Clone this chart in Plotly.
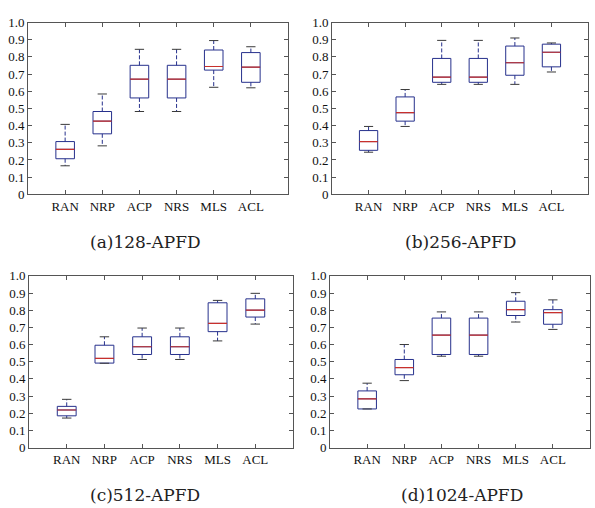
import plotly.graph_objects as go

categories = ["RAN", "NRP", "ACP", "NRS", "MLS", "ACL"]
panel_titles = ["(a)128-APFD", "(b)256-APFD", "(c)512-APFD", "(d)1024-APFD"]

# Panel (a) 128-APFD
a_low = [0.166, 0.282, 0.482, 0.482, 0.623, 0.620]
a_q1 = [0.207, 0.352, 0.561, 0.561, 0.723, 0.652]
a_med = [0.262, 0.426, 0.670, 0.670, 0.744, 0.740]
a_q3 = [0.307, 0.482, 0.751, 0.751, 0.840, 0.825]
a_high = [0.407, 0.584, 0.844, 0.844, 0.895, 0.859]

# Panel (b) 256-APFD
b_low = [0.245, 0.395, 0.640, 0.640, 0.640, 0.712]
b_q1 = [0.256, 0.426, 0.652, 0.652, 0.693, 0.742]
b_med = [0.307, 0.475, 0.682, 0.682, 0.766, 0.827]
b_q3 = [0.371, 0.567, 0.791, 0.791, 0.863, 0.874]
b_high = [0.395, 0.610, 0.896, 0.896, 0.910, 0.881]

# Panel (c) 512-APFD
c_low = [0.172, 0.491, 0.513, 0.513, 0.621, 0.719]
c_q1 = [0.185, 0.492, 0.542, 0.542, 0.675, 0.760]
c_med = [0.219, 0.519, 0.587, 0.587, 0.723, 0.800]
c_q3 = [0.240, 0.596, 0.645, 0.645, 0.843, 0.866]
c_high = [0.281, 0.645, 0.696, 0.696, 0.857, 0.898]

# Panel (d) 1024-APFD
d_low = [0.225, 0.390, 0.532, 0.532, 0.731, 0.688]
d_q1 = [0.225, 0.424, 0.542, 0.542, 0.769, 0.718]
d_med = [0.284, 0.466, 0.655, 0.655, 0.803, 0.786]
d_q3 = [0.330, 0.513, 0.754, 0.754, 0.852, 0.803]
d_high = [0.375, 0.600, 0.790, 0.790, 0.902, 0.860]

y_tickvals = [0, 0.1, 0.2, 0.3, 0.4, 0.5, 0.6, 0.7, 0.8, 0.9, 1.0]
y_ticktext = ["0", "0.1", "0.2", "0.3", "0.4", "0.5", "0.6", "0.7", "0.8", "0.9", "1.0"]

panels = [
    (a_low, a_q1, a_med, a_q3, a_high),
    (b_low, b_q1, b_med, b_q3, b_high),
    (c_low, c_q1, c_med, c_q3, c_high),
    (d_low, d_q1, d_med, d_q3, d_high),
]

W, H = 595, 508
# plot areas in pixels: (left, right, top, bottom)
areas = [(28, 288, 16, 193), (332, 588, 16, 193), (29, 293, 277, 454), (330, 590, 277, 454)]

BOX = "#26308c"
MED = "#c8302c"
CAP = "#3a3a3a"
FRAME = "#555555"
TICKFONT = dict(family="Liberation Serif", size=13, color="#111111")

fig = go.Figure()
layout = dict(
    width=W, height=H, margin=dict(l=0, r=0, t=0, b=0),
    paper_bgcolor="white", plot_bgcolor="white", showlegend=False,
)
annotations = []
pos = list(range(1, len(categories) + 1))
half_box = 0.25
half_cap = 0.125

for i, ((low, q1, med, q3, high), (l, r, t, b)) in enumerate(zip(panels, areas)):
    k = "" if i == 0 else str(i + 1)
    xa, ya = "x" + k, "y" + k
    # boxes
    fig.add_trace(go.Box(
        x=pos, q1=q1, median=med, q3=q3, lowerfence=q1, upperfence=q3,
        width=2 * half_box, whiskerwidth=0, boxpoints=False,
        line=dict(color=BOX, width=1), fillcolor="rgba(0,0,0,0)",
        xaxis=xa, yaxis=ya, hoverinfo="skip",
    ))
    # medians
    mx, my = [], []
    for p, m in zip(pos, med):
        mx += [p - half_box, p + half_box, None]
        my += [m, m, None]
    fig.add_trace(go.Scatter(x=mx, y=my, mode="lines", line=dict(color=MED, width=1.2),
                             xaxis=xa, yaxis=ya, hoverinfo="skip"))
    # whiskers
    wx, wy = [], []
    for p, lo, a, c, hi in zip(pos, low, q1, q3, high):
        wx += [p, p, None, p, p, None]
        wy += [c, hi, None, a, lo, None]
    fig.add_trace(go.Scatter(x=wx, y=wy, mode="lines",
                             line=dict(color=BOX, width=1, dash="4px,2px"),
                             xaxis=xa, yaxis=ya, hoverinfo="skip"))
    # caps
    cx, cy = [], []
    for p, lo, hi in zip(pos, low, high):
        cx += [p - half_cap, p + half_cap, None, p - half_cap, p + half_cap, None]
        cy += [hi, hi, None, lo, lo, None]
    fig.add_trace(go.Scatter(x=cx, y=cy, mode="lines", line=dict(color=CAP, width=1),
                             xaxis=xa, yaxis=ya, hoverinfo="skip"))

    layout["xaxis" + k] = dict(
        domain=[l / W, r / W], anchor=ya, range=[0, 7],
        tickvals=pos, ticktext=categories, ticks="inside", ticklen=4,
        tickcolor=FRAME, showline=True, linecolor=FRAME, linewidth=1,
        mirror="ticks", showgrid=False, zeroline=False, tickfont=TICKFONT,
    )
    layout["yaxis" + k] = dict(
        domain=[1 - b / H, 1 - t / H], anchor=xa, range=[0, 1],
        tickvals=y_tickvals, ticktext=y_ticktext, ticks="inside", ticklen=4,
        tickcolor=FRAME, showline=True, linecolor=FRAME, linewidth=1,
        mirror="ticks", showgrid=False, zeroline=False, tickfont=TICKFONT,
    )
    cxp = [145, 460, 145, 462][i]
    cyp = b + 49
    annotations.append(dict(
        text=panel_titles[i], x=cxp / W, y=1 - cyp / H, xref="paper", yref="paper",
        xanchor="center", yanchor="middle", showarrow=False,
        font=dict(family="DejaVu Serif", size=17, color="#222222"),
    ))

layout["annotations"] = annotations
fig.update_layout(**layout)
fig.write_html("out.html", config={"displayModeBar": False},
               post_script="document.body.style.margin='0';")
